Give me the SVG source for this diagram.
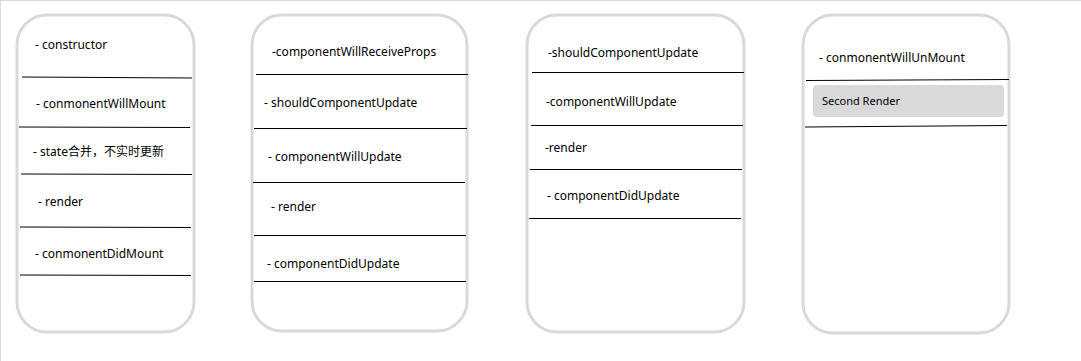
<svg xmlns="http://www.w3.org/2000/svg" width="1081" height="361" viewBox="0 0 1081 361">
  <style>
    .card { fill: #ffffff; stroke: #d9d9d9; stroke-width: 3; }
    .sep { stroke: #000000; stroke-width: 1; fill: none; }
    .lbl { font-family: "Noto Sans", "Noto Sans CJK SC", sans-serif; font-size: 12px; fill: #000000; }
    .tag { fill: #d9d9d9; }
    .tagtxt { font-family: "Noto Sans", sans-serif; font-size: 11px; fill: #000000; }
  </style>

  <!-- page background and frame -->
  <rect x="0" y="0" width="1081" height="361" fill="#ffffff"/>
  <line x1="0" y1="0.5" x2="1081" y2="0.5" stroke="#d9d9d9" stroke-width="1"/>
  <line x1="0.5" y1="0" x2="0.5" y2="361" stroke="#d9d9d9" stroke-width="1"/>

  <!-- Mounting phase -->
  <g id="mount">
    <rect class="card" x="17" y="15" width="177" height="317" rx="30" ry="30"/>
    <text class="lbl" x="35" y="49">- constructor</text>
    <text class="lbl" x="36" y="108">- conmonentWillMount</text>
    <text class="lbl" x="33" y="156">- state合并，不实时更新</text>
    <text class="lbl" x="38" y="206">- render</text>
    <text class="lbl" x="35" y="258">- conmonentDidMount</text>
  </g>

  <!-- Props update phase -->
  <g id="props-update">
    <rect class="card" x="252" y="15" width="215" height="316" rx="30" ry="30"/>
    <text class="lbl" x="272" y="56">-componentWillReceiveProps</text>
    <text class="lbl" x="264" y="107">- shouldComponentUpdate</text>
    <text class="lbl" x="268" y="161">- componentWillUpdate</text>
    <text class="lbl" x="271" y="211">- render</text>
    <text class="lbl" x="267" y="268">- componentDidUpdate</text>
  </g>

  <!-- State update phase -->
  <g id="state-update">
    <rect class="card" x="527" y="15" width="217" height="317" rx="30" ry="30"/>
    <text class="lbl" x="548" y="57">-shouldComponentUpdate</text>
    <text class="lbl" x="546" y="106">-componentWillUpdate</text>
    <text class="lbl" x="545" y="152">-render</text>
    <text class="lbl" x="547" y="200">- componentDidUpdate</text>
  </g>

  <!-- Unmount phase -->
  <g id="unmount">
    <rect class="card" x="803" y="15" width="206" height="318" rx="30" ry="30"/>
    <text class="lbl" x="819" y="62">- conmonentWillUnMount</text>
    <rect class="tag" x="813" y="85" width="191" height="32" rx="4" ry="4"/>
    <text class="tagtxt" x="822" y="105">Second Render</text>
  </g>

  <!-- separator rules between lifecycle steps -->
  <g id="separators">
    <line class="sep" x1="22" y1="77" x2="192" y2="78"/>
    <line class="sep" x1="19" y1="127" x2="190" y2="127.5"/>
    <line class="sep" x1="21" y1="174" x2="192" y2="174.5"/>
    <line class="sep" x1="20" y1="227" x2="191" y2="227.5"/>
    <line class="sep" x1="20" y1="275" x2="191" y2="275.5"/>

    <line class="sep" x1="256" y1="74.5" x2="468" y2="74.5"/>
    <line class="sep" x1="254" y1="128.5" x2="467" y2="128.5"/>
    <line class="sep" x1="253" y1="182.5" x2="465" y2="182.5"/>
    <line class="sep" x1="254" y1="235.5" x2="466" y2="235.5"/>
    <line class="sep" x1="254" y1="281.5" x2="466" y2="281.5"/>

    <line class="sep" x1="532" y1="72.5" x2="744" y2="72.5"/>
    <line class="sep" x1="531" y1="125.5" x2="743" y2="125.5"/>
    <line class="sep" x1="530" y1="169.5" x2="742" y2="169.5"/>
    <line class="sep" x1="529" y1="218.5" x2="741" y2="218.5"/>

    <line class="sep" x1="806" y1="80.5" x2="1009" y2="79.5"/>
    <line class="sep" x1="805" y1="127" x2="1007" y2="125.5"/>
  </g>
</svg>
